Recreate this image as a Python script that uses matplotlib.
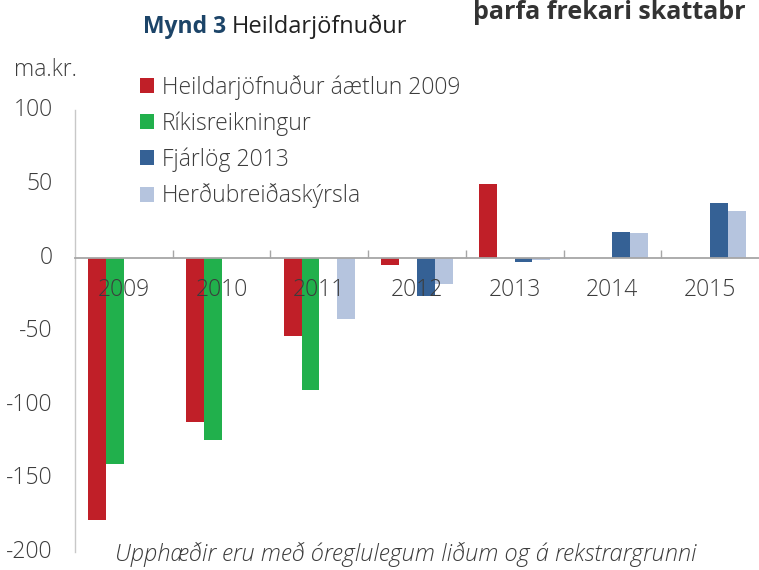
import matplotlib
matplotlib.use("Agg")
import matplotlib.pyplot as plt
import numpy as np
from matplotlib.patches import Patch

years = ["2009", "2010", "2011", "2012", "2013", "2014", "2015"]
series_names = [
    "Heildarjöfnuður áætlun 2009",
    "Ríkisreikningur",
    "Fjárlög 2013",
    "Herðubreiðaskýrsla",
]
aaetlun_2009 = [-178, -112, -53, -5, 50, np.nan, np.nan]
rikisreikningur = [-140, -124, -90, np.nan, np.nan, np.nan, np.nan]
fjarlog_2013 = [np.nan, np.nan, np.nan, -26, -3, 17.6, 37.3]
herdubreid = [np.nan, np.nan, -42, -18, -1.8, 17, 31.7]
y_ticks = [100, 50, 0, -50, -100, -150, -200]

COLORS = ["#C01F28", "#21B04C", "#356195", "#B5C4DE"]
TEXT_COLOR = "#3C3C3C"
AXIS_COLOR = "#A6A6A6"
FONT = "Open Sans"
SIZE = 16.5
W, H = 759, 570

plt.rcParams["font.family"] = [FONT, "DejaVu Sans"]

fig = plt.figure(figsize=(W / 100, H / 100), dpi=100)
ax = fig.add_axes([75 / W, 1 - 552 / H, 684 / W, (552 - 110.5) / H])

x = np.arange(len(years))
width = 0.182
all_series = [aaetlun_2009, rikisreikningur, fjarlog_2013, herdubreid]
for i, (values, color) in enumerate(zip(all_series, COLORS)):
    ax.bar(x + (i - 1.5) * width, values, width=width, color=color, zorder=1)

ax.set_xlim(-0.5, len(years) - 0.5)
ax.set_ylim(-200, 100)

for side in ["top", "right"]:
    ax.spines[side].set_visible(False)
ax.spines["bottom"].set_position(("data", 0))
ax.spines["bottom"].set_color(AXIS_COLOR)
ax.spines["bottom"].set_linewidth(1.3)
ax.spines["bottom"].set_zorder(3)
ax.spines["left"].set_color("#C8C8C8")
ax.spines["left"].set_linewidth(1.0)

ax.set_xticks(x)
ax.set_xticklabels(years)
ax.set_xticks(np.arange(0.5, len(years) - 0.5), minor=True)
ax.tick_params(axis="x", which="major", length=0, pad=15, labelsize=SIZE,
               labelcolor=TEXT_COLOR)
ax.tick_params(axis="x", which="minor", direction="in", length=6,
               color=AXIS_COLOR, width=1.0)
for lbl in ax.get_xticklabels():
    lbl.set_fontweight("light")

ax.set_yticks(y_ticks)
ax.set_yticklabels([str(v) for v in y_ticks])
ax.tick_params(axis="y", length=0, pad=16, labelsize=SIZE, labelcolor=TEXT_COLOR)
for lbl in ax.get_yticklabels():
    lbl.set_fontweight("light")
    lbl.set_verticalalignment("center")

handles = [Patch(facecolor=c, edgecolor="none") for c in COLORS]
fig.legend(
    handles,
    series_names,
    loc="upper left",
    bbox_to_anchor=(140 / W, 1 - 75 / H),
    frameon=False,
    handlelength=0.62,
    handleheight=0.62,
    handletextpad=0.32,
    labelspacing=0.5,
    borderpad=0,
    borderaxespad=0,
    labelcolor=TEXT_COLOR,
    prop={"family": [FONT, "DejaVu Sans"], "weight": "light", "size": SIZE},
)

fig.text(14 / W, 1 - 70 / H, "ma.kr.", fontsize=SIZE, color=TEXT_COLOR,
         fontweight="light", va="center", ha="left")

title_main = fig.text(143 / W, 1 - 27 / H, "Mynd 3", fontsize=16.5,
                      color="#1C4468", fontweight="bold", va="center", ha="left")
fig.canvas.draw()
bb = title_main.get_window_extent()
fig.text((bb.x1 + 6) / W, 1 - 27 / H, "Heildarjöfnuður", fontsize=17,
         color="#222222", va="center", ha="left")

fig.text(473 / W, 1.0, "þarfa frekari skattabr", fontsize=18,
         color="#333333", fontweight="bold", va="top", ha="left")

fig.text(115 / W, 1 - 554 / H,
         "Upphæðir eru með óreglulegum liðum og á rekstrargrunni",
         fontsize=17, fontstyle="italic", fontweight="light", color=TEXT_COLOR,
         va="center", ha="left")

fig.savefig("out.png", dpi=100)
